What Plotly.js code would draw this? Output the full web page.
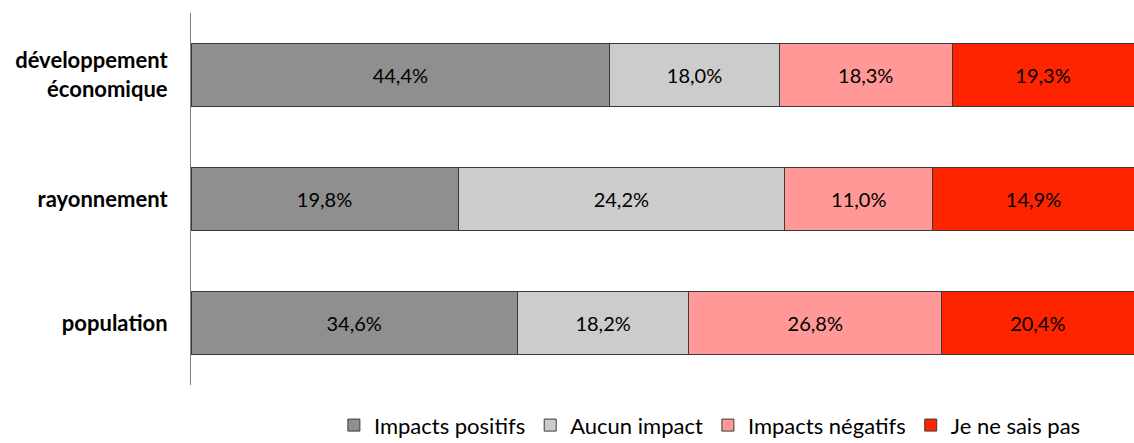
<!DOCTYPE html>
<html><head><meta charset="utf-8">
<script src="https://cdn.plot.ly/plotly-3.0.1.min.js"></script>
<style>html,body{margin:0;padding:0;background:#fff}#c{width:1134px;height:443px}</style>
</head><body><div id="c"></div>
<script>
var categories = ['développement<br>économique', 'rayonnement', 'population'];
var seriesNames = ['Impacts positifs', 'Aucun impact', 'Impacts négatifs', 'Je ne sais pas'];
var impactsPositifs = [44.4, 19.8, 34.6];
var aucunImpact = [18.0, 24.2, 18.2];
var impactsNegatifs = [18.3, 11.0, 26.8];
var jeNeSaisPas = [19.3, 14.9, 20.4];
var colors = ['#8F8F8F', '#CCCCCC', '#FF9896', '#FF2400'];

var allSeries = [impactsPositifs, aucunImpact, impactsNegatifs, jeNeSaisPas];
function fmt(v){ return v.toFixed(1).replace('.', ',') + '%'; }
var traces = allSeries.map(function(vals, i){
  return {
    type: 'bar', orientation: 'h', name: seriesNames[i],
    y: categories, x: vals,
    text: vals.map(fmt), textposition: 'inside', insidetextanchor: 'middle',
    constraintext: 'none', cliponaxis: false,
    textfont: {color: '#000', size: 20, family: 'Lato, sans-serif'},
    marker: {color: colors[i], line: {color: '#3a3a3a', width: 1}},
    hoverinfo: 'skip'
  };
});
var layout = {
  width: 1134, height: 443,
  margin: {l: 191, r: 0, t: 13, b: 58, autoexpand: false},
  barmode: 'stack', barnorm: 'percent', bargap: 0.484,
  paper_bgcolor: '#fff', plot_bgcolor: '#fff',
  font: {family: 'Lato, sans-serif', color: '#000'},
  xaxis: {visible: false, range: [0, 100], fixedrange: true},
  yaxis: {
    type: 'category', categoryorder: 'array', categoryarray: categories,
    autorange: 'reversed', showline: true, linecolor: '#808080', linewidth: 1,
    ticks: '', showgrid: false, zeroline: false, ticklabelstandoff: 18,
    tickfont: {family: 'Lato, sans-serif', size: 22, color: '#000', weight: 'bold'}
  },
  showlegend: true,
  legend: {orientation: 'h', xref: 'container', yref: 'container',
    x: 0.626, xanchor: 'center', y: 0.04, yanchor: 'middle',
    font: {size: 22, color: '#000'}, traceorder: 'normal', itemwidth: 30}
};
Plotly.newPlot('c', traces, layout, {displayModeBar: false, staticPlot: true});
</script></body></html>
